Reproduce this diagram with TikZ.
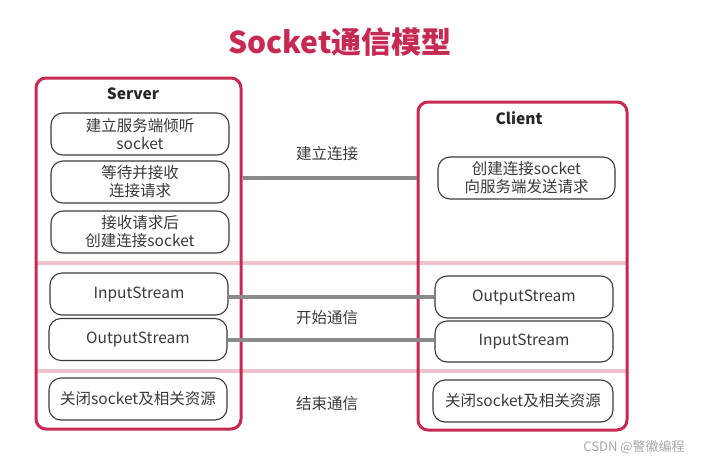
\documentclass[tikz,border=0pt]{standalone}
\usepackage{fontspec}
\setmainfont{Noto Sans CJK SC}
\definecolor{crim}{HTML}{C62A52}
\definecolor{pinkline}{HTML}{F0C2CD}
\definecolor{dk}{HTML}{3A3A3A}
\definecolor{conngray}{HTML}{8A8A8A}
\begin{document}
\begin{tikzpicture}[x=1pt,y=-1pt,
  outer/.style={draw=crim, line width=3pt, rounded corners=10pt, inner sep=0pt},
  innerbox/.style={draw=dk, line width=1.1pt, rounded corners=12pt, fill=white, align=center,
    font=\fontsize{15.5}{18}\selectfont, text=dk, inner sep=0pt},
  conn/.style={draw=conngray, line width=4pt},
  sepline/.style={draw=pinkline, line width=4pt},
  lab/.style={font=\fontsize{15.5}{18}\selectfont, text=dk},
  head/.style={font=\fontsize{15.5}{18}\selectfont\bfseries, text=black!85}]
\useasboundingbox (0,0) rectangle (719,466);
% title
\node[font=\fontsize{30}{34}\selectfont\bfseries, text=crim] (title) at (340,42) {Socket通信模型};
% separators
\coordinate (sa1) at (36,263); \coordinate (sa2) at (627,263);
\coordinate (sb1) at (36,371); \coordinate (sb2) at (627,371);
\draw[sepline] (sa1) -- (sa2);
\draw[sepline] (sb1) -- (sb2);
% outer boxes
\node[outer, minimum width=205pt, minimum height=351pt] (server) at (138.5,253.5) {};
\node[outer, minimum width=209pt, minimum height=328pt] (client) at (522.5,266) {};
\node[head] (slab) at (133,94) {Server};
\node[head] (clab) at (519,118) {Client};
% server boxes
\node[innerbox, minimum width=178pt, minimum height=42pt] (s1) at (140,134) {建立服务端倾听\\socket};
\node[innerbox, minimum width=178pt, minimum height=42pt] (s2) at (140,182) {等待并接收\\连接请求};
\node[innerbox, minimum width=178pt, minimum height=42pt] (s3) at (140,232) {接收请求后\\创建连接socket};
\node[innerbox, minimum width=178pt, minimum height=42pt] (s4) at (139,294) {InputStream};
\node[innerbox, minimum width=178pt, minimum height=42pt] (s5) at (138,339.5) {OutputStream};
\node[innerbox, minimum width=178pt, minimum height=42pt] (s6) at (138,399) {关闭socket及相关资源};
% client boxes
\node[innerbox, minimum width=177pt, minimum height=42pt] (c1) at (526.5,178) {创建连接socket\\向服务端发送请求};
\node[innerbox, minimum width=178pt, minimum height=42pt] (c2) at (524,297) {OutputStream};
\node[innerbox, minimum width=178pt, minimum height=41pt] (c3) at (524,341.5) {InputStream};
\node[innerbox, minimum width=180pt, minimum height=42pt] (c4) at (523,401) {关闭socket及相关资源};
% connectors
\draw[conn] (server.east |- c1) -- (c1 -| client.west);
\draw[conn] (s4.east |- c2) -- (c2.west);
\draw[conn] (s5.east) -- (s5.east -| c3.west);
% labels
\node[lab] (l1) at (327,154) {建立连接};
\node[lab] (l2) at (327,318) {开始通信};
\node[lab] (l3) at (327,404) {结束通信};
% watermark
\node[font=\fontsize{13}{15}\selectfont, text=black!35] (wm) at (634,447) {CSDN @警徽编程};
\end{tikzpicture}
\end{document}
